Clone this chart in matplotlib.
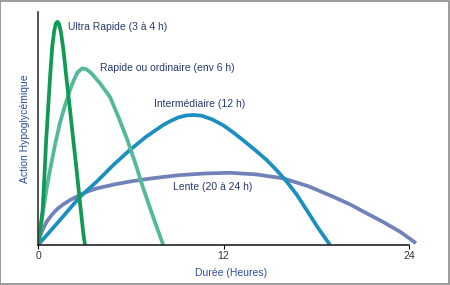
import matplotlib
matplotlib.use("Agg")
from matplotlib import pyplot as plt

# heures / action (0-100)
ultra_x = [0, 0.15, 0.30, 0.42, 0.52, 0.65, 0.78, 0.92, 1.05, 1.15, 1.25, 1.35, 1.48,
           1.64, 1.85, 2.07, 2.30, 2.50, 2.72, 2.93, 3.04]
ultra_y = [0, 7, 15, 30, 44, 58, 72, 85, 92, 95, 95.8, 95, 91.5,
           84, 71, 58, 44, 32, 18, 5, 0]

rapide_x = [0, 0.17, 0.34, 0.55, 0.78, 1.10, 1.42, 1.75, 2.07, 2.30, 2.55, 2.85, 3.10,
            3.36, 3.60, 4.00, 4.66, 5.20, 5.74, 6.30, 6.81, 7.45, 8.10]
rapide_y = [0, 7, 15, 24, 32.2, 43, 52.4, 60, 66.5, 70.5, 74, 75.8, 75.5,
            74.3, 72.6, 69.5, 63.5, 55, 45.8, 35, 24.3, 12, 0]

inter_x = [0, 0.8, 1.64, 2.72, 3.80, 4.90, 5.95, 7.00, 8.10, 8.60, 9.10, 9.60, 10.05,
           10.60, 11.30, 12.00, 12.63, 13.30, 14.00, 14.79, 15.45, 16.09, 16.75, 17.38,
           18.10, 18.89]
inter_y = [0, 6, 12.4, 20.7, 27.2, 34.5, 40.8, 46.5, 51.5, 53.3, 54.8, 55.6, 55.8,
           55.5, 53.8, 51.3, 48.3, 44.8, 41, 36.5, 32, 27.2, 21.5, 15.0,
           7.5, 0]

lente_x = [0, 0.12, 0.26, 0.56, 0.90, 1.21, 1.60, 2.07, 2.72, 3.30, 3.80, 4.87, 6.00,
           7.03, 8.10, 9.18, 10.80, 12.42, 14.10, 15.87, 17.50, 19.10, 20.20, 21.26,
           22.35, 23.42, 24.45]
lente_y = [0, 3.5, 6, 10, 13, 15.2, 17.3, 19.3, 21.5, 23.2, 24.3, 25.9, 27.3,
           28.3, 29.2, 30.0, 30.7, 31.0, 30.3, 28.6, 25.2, 20.7, 17.4, 13.6,
           9.8, 5.7, 0.8]

labels = ["Ultra Rapide (3 à 4 h)", "Rapide ou ordinaire (env 6 h)",
          "Intermédiaire (12 h)", "Lente (20 à 24 h)"]
label_x = [1.93, 4.01, 7.50, 8.71]
label_y = [93.5, 76.0, 60.5, 24.8]

xticks = [0, 12, 24]

plt.rcParams['font.family'] = ['Liberation Sans', 'DejaVu Sans']

fig = plt.figure(figsize=(4.5, 2.85), dpi=100)
ax = fig.add_axes([38 / 450, 40 / 285, (409 - 38) / 450 * 25 / 24, 233 / 285])

ax.plot(lente_x, lente_y, color="#7282b9", lw=2.7, solid_capstyle="butt")
ax.plot(inter_x, inter_y, color="#1b8fc0", lw=2.7, solid_capstyle="butt")
ax.plot(rapide_x, rapide_y, color="#52b999", lw=2.7, solid_capstyle="butt")
ax.plot(ultra_x, ultra_y, color="#119a55", lw=2.7, solid_capstyle="butt")

for t, x, y in zip(labels, label_x, label_y):
    ax.text(x, y, t, fontsize=7.5, color="#263a6e", va="center", ha="left")

ax.set_xlim(0, 25)
ax.set_ylim(0, 100)
for s in ["top", "right"]:
    ax.spines[s].set_visible(False)
ax.spines["bottom"].set_bounds(0, 24)
ax.spines["left"].set_bounds(0, 100)
ax.spines["bottom"].set_linewidth(1.2)
ax.spines["left"].set_linewidth(1.2)
ax.spines["left"].set_color("#333333")
ax.spines["bottom"].set_color("#222222")

ax.set_xticks(xticks)
ax.set_xticklabels([str(v) for v in xticks], fontsize=7.5, color="#333333")
ax.tick_params(axis="x", length=3, width=0.8, pad=1)
ax.set_yticks([])

ax.set_xlabel("Durée (Heures)", fontsize=7.5, color="#2a4f9a", labelpad=5)
ax.set_ylabel("Action Hypoglycémique", fontsize=7.5, color="#2a4f9a", labelpad=6)

border = plt.Rectangle((0.001, 0.002), 0.997, 0.995, transform=fig.transFigure,
                       fill=False, edgecolor="#8a8a8a", lw=1.2)
fig.patches.append(border)

fig.savefig("out.png", dpi=100)
